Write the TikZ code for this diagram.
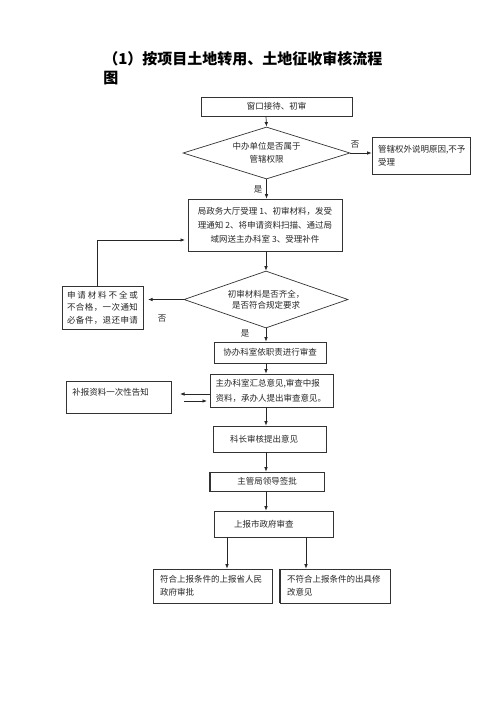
\documentclass[tikz,border=0pt]{standalone}
\usepackage{fontspec}
\setmainfont{Noto Sans CJK SC}
\usetikzlibrary{shapes.geometric,arrows.meta}
\newcommand{\spreadline}[1]{\makebox[71pt][s]{#1}}
\begin{document}
\begin{tikzpicture}[x=1pt,y=-1pt,
  line width=0.7pt,
  every node/.style={font=\fontsize{8.5}{13}\selectfont, text=black!85, inner sep=0pt},
  box/.style={draw=black!80, rectangle, align=center},
  dia/.style={draw=black!80, diamond, align=center, inner sep=0pt},
  arr/.style={draw=black!85, -{Latex[length=4.5pt,width=3.5pt]}},
  lbl/.style={font=\fontsize{8.5}{10}\selectfont}]
\fill[white] (0,0) rectangle (496,702);
\useasboundingbox (0,0) rectangle (496,702);
% title
\node[anchor=north west, align=left, font=\fontsize{15}{19}\selectfont\bfseries, text=black] (title) at (103,51) {（1）按项目土地转用、土地征收审核流程\\图};
% boxes
\node[box, minimum width=151pt, minimum height=19pt] (n1) at (276.5,106.5) {窗口接待、初审};
\node[dia, aspect=3.2, minimum width=167pt, minimum height=52pt, font=\fontsize{8.5}{12.5}\selectfont] (d1) at (266.5,153) {中办单位是否属于\\管辖权限};
\node[box, minimum width=98pt, minimum height=37pt, text width=86pt, align=left, font=\fontsize{8.5}{13}\selectfont] (r1) at (421,155.5) {管辖权外说明原因,不予\\受理};
\node[box, minimum width=154pt, minimum height=52pt, font=\fontsize{8.5}{14}\selectfont] (b3) at (265,225) {局政务大厅受理 1、初审材料，发受\\理通知 2、将申请资料扫描、通过局\\域网送主办科室 3、受理补件};
\node[dia, aspect=2.9, minimum width=164pt, minimum height=57pt, font=\fontsize{8.5}{11.5}\selectfont] (d2) at (266,299.5) {初审材料是否齐全，\\是否符合规定要求};
\node[box, minimum width=81pt, minimum height=43pt, font=\fontsize{8.5}{12.5}\selectfont] (lb) at (102.5,307.5) {\spreadline{申\hfill 请\hfill 材\hfill 料\hfill 不\hfill 全\hfill 或}\\\spreadline{不\hfill 合\hfill 格\hfill ，\hfill 一\hfill 次\hfill 通\hfill 知}\\\spreadline{必\hfill 备\hfill 件\hfill ，\hfill 退\hfill 还\hfill 申\hfill 请}};
\node[box, minimum width=112pt, minimum height=21pt] (n2) at (270,352.5) {协办科室依职责进行审查};
\node[box, minimum width=123pt, minimum height=33pt, text width=112pt, align=left, font=\fontsize{8.5}{15}\selectfont] (n3) at (271.5,390.5) {主办科室汇总意见,审查中报\\资料，承办人提出审查意见。};
\node[box, minimum width=105pt, minimum height=32pt] (bb) at (118.5,397) {};
\node[anchor=west] (bbt) at (72,392) {补报资料一次性告知};
\node[box, minimum width=113pt, minimum height=26pt, text width=79pt, align=left] (n4) at (269.5,439) {科长审核提出意见};
\node[box, minimum width=114pt, minimum height=19pt] (n5) at (267,481.5) {主管局领导签批};
\node[box, minimum width=119pt, minimum height=26pt, text width=79pt, align=left] (n6) at (273.5,524) {上报市政府审查};
\node[box, minimum width=119pt, minimum height=34pt, text width=105pt, align=left, font=\fontsize{8.5}{12.5}\selectfont] (bl) at (212.5,586) {符合上报条件的上报省人民\\政府审批};
\node[box, minimum width=110pt, minimum height=34pt, text width=96pt, align=left, font=\fontsize{8.5}{12.5}\selectfont] (br) at (335,586) {不符合上报条件的出具修\\改意见};
% thicker edges
\draw[black!80, line width=1.4pt] (n5.north west) -- (n5.south west) -- (n5.south east);
\draw[black!80, line width=1.4pt] (br.north west) -- (br.south west);
% connectors
\coordinate (sp) at (266,0);
\draw[arr] (n1.south -| sp) -- (d1.north);
\draw[arr] (d1.east) -- (r1.west |- d1.east);
\node[lbl] (no1) at (355,145) {否};
\draw[arr] (d1.south) -- (b3.north -| d1.south);
\node[lbl] (yes1) at (258,189) {是};
\draw[arr] (b3.south -| sp) -- (d2.north);
\coordinate (lbtip) at (148,299.5);
\draw[arr] (d2.west) -- (lbtip);
\node[lbl] (no2) at (162,319) {否};
\coordinate (fbx) at (97,0);
\coordinate (fbend) at (185,240);
\draw[arr] (lb.north -| fbx) |- (fbend);
\node[lbl] (yes2) at (245,333) {是};
\draw[arr] (d2.south) -- (n2.north -| d2.south);
\draw[arr] (n2.south -| sp) -- (n3.north -| sp);
\coordinate (t1) at (180,394);
\draw[arr] (n3.west |- t1) -- (t1);
\coordinate (s2) at (184,401);
\coordinate (e2) at (207,401);
\draw[arr] (s2) -- (e2);
\draw[arr] (n3.south -| sp) -- (n4.north -| sp);
\draw[arr] (n4.south -| sp) -- (n5.north -| sp);
\draw[arr] (n5.south -| sp) -- (n6.north -| sp);
\coordinate (xa) at (227,0);
\coordinate (xb) at (306,0);
\draw[arr] (n6.south -| xa) -- (bl.north -| xa);
\draw[arr] (n6.south -| xb) -- (br.north -| xb);
\end{tikzpicture}
\end{document}
